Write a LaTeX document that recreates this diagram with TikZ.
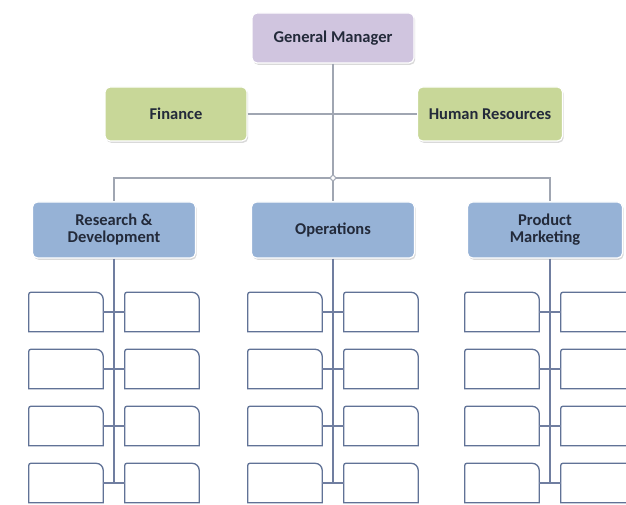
\documentclass[tikz,border=0pt]{standalone}
\usepackage{fontspec}
\setmainfont{Carlito}
\usetikzlibrary{shadows}

\definecolor{gmfill}{RGB}{208,197,223}
\definecolor{staff}{RGB}{200,215,152}
\definecolor{dept}{RGB}{150,178,214}
\definecolor{wire}{RGB}{160,166,178}
\definecolor{stemline}{RGB}{112,126,160}
\definecolor{leafline}{RGB}{96,114,150}
\definecolor{ink}{RGB}{35,42,58}

% outline of an empty box: top right corner rounded
\newcommand{\leafoutline}[1]{%
  \draw[draw=leafline,line width=1.3pt]
    (#1.south west) -- ([yshift=-2pt]#1.north west)
    arc[start angle=180,end angle=90,radius=2pt]
    -- ([xshift=-7pt]#1.north east)
    arc[start angle=90,end angle=0,radius=7pt]
    -- (#1.south east) -- cycle;}

\begin{document}
\begin{tikzpicture}
  [x=1pt,y=1pt,
   every node/.style={font=\fontsize{16.5}{17}\selectfont\bfseries,text=ink,align=center},
   box/.style={rectangle,rounded corners=5pt,draw=white,line width=1.2pt,
     drop shadow={opacity=0.3,shadow xshift=1.2pt,shadow yshift=-1.8pt}},
   deptbox/.style={box,fill=dept,minimum width=163pt,minimum height=56pt},
   hubdot/.style={circle,draw=wire,fill=white,line width=1pt,inner sep=0pt,minimum size=5pt},
   wire/.style={draw=wire,line width=1.2pt},
   stem/.style={draw=stemline,line width=1.2pt},
   leaf/.style={minimum width=74pt,minimum height=39pt,inner sep=0pt}]
  \useasboundingbox (0,0) rectangle (626,-505);

  % top of the chart
  \node[box,fill=gmfill,minimum width=162pt,minimum height=50pt] (gm) at (333,-38) {General Manager};
  \node[box,fill=staff,minimum width=142pt,minimum height=54pt] (fin) at (176,-114) {Finance};
  \node[box,fill=staff,minimum width=145pt,minimum height=54pt] (hr) at (490,-114) {Human Resources};

  % departments
  \node[deptbox] (rd) at (114,-230) {Research \&\\Development};
  \node[deptbox] (ops) at (333,-230) {Operations};
  \node[deptbox,minimum width=155pt] (pm) at (545,-230) {Product\\Marketing};
  \node[hubdot] (hub) at (333,-178) {};

  \coordinate (rd-end)  at (114,-483);
  \coordinate (ops-end) at (333,-483);
  \coordinate (pm-end)  at (550,-483);

  \draw[wire] (fin) -- (hr);
  \draw[wire] (gm) -- (hub);
  \draw[wire] (hub) -- (ops);
  \draw[wire] (hub.west) -| (rd.north);
  \draw[wire] (hub.east) -| (pm.north -| pm-end);

  % empty boxes under each department
  \foreach \head/\cx in {rd/114,ops/333,pm/550}{
    \draw[stem] (\head.south -| \head-end) -- (\head-end);
    \foreach \row/\cy in {1/312,2/369,3/426,4/483}{
      \node[leaf] (\head-l\row) at (\cx-48,-\cy) {};
      \node[leaf] (\head-r\row) at (\cx+48,-\cy) {};
      \leafoutline{\head-l\row}
      \leafoutline{\head-r\row}
      \draw[stem] (\head-l\row) -- (\head-r\row);
    }
  }
\end{tikzpicture}
\end{document}
